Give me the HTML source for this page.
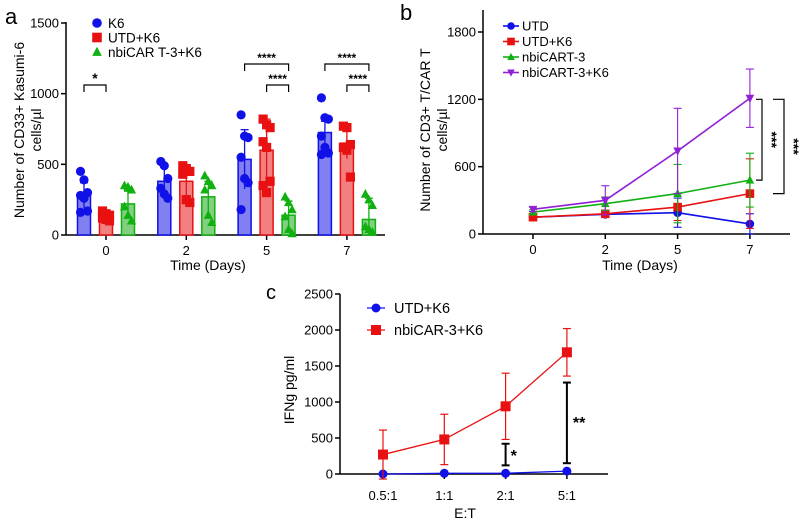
<!DOCTYPE html>
<html><head><meta charset="utf-8"><style>
body{margin:0;background:#fff;}
svg{display:block;font-family:"Liberation Sans",Arial,sans-serif;}
</style></head><body>
<svg id="s" width="800" height="524" viewBox="0 0 800 524"></svg>
<script>
// Panel a data
const aDays = ["0","2","5","7"];
const aSeries = ["K6","UTD+K6","nbiCAR T-3+K6"];
const aMeans = [[280,380,535,725],[130,380,600,650],[220,270,140,110]];
const aSD = [[90,100,210,80],[40,110,220,110],[90,110,100,150]];
const aPoints = [
 [[450,390,300,280,260,170,160],[520,490,400,330,290,260],[850,700,690,550,400,370,180],[970,830,820,700,620,580,570]],
 [[170,150,140,120,110,100],[490,470,450,430,250,230],[820,780,760,660,620,380,350,300],[770,760,640,620,600,410]],
 [[350,340,320,200,140,100],[420,380,350,320,140,90],[270,230,180,130,40,10],[290,250,210,60,40,20]]
];
const aTicks = [0,500,1000,1500];
// Panel b data
const bDays = ["0","2","5","7"];
const bSeries = ["UTD","UTD+K6","nbiCART-3","nbiCART-3+K6"];
const bMeans = [[150,175,190,90],[150,180,240,360],[195,270,360,480],[220,300,740,1210]];
const bSD = [[30,20,130,90],[20,30,120,310],[20,60,260,240],[20,130,380,260]];
const bTicks = [0,600,1200,1800];
// Panel c data
const cRatios = ["0.5:1","1:1","2:1","5:1"];
const cSeries = ["UTD+K6","nbiCAR-3+K6"];
const cMeans = [[0,10,10,40],[270,480,940,1690]];
const cSD = [[0,0,0,0],[340,350,460,330]];
const cTicks = [0,500,1000,1500,2000,2500];

const S=document.getElementById('s');const NS='http://www.w3.org/2000/svg';
function el(tag,at,txt){const e=document.createElementNS(NS,tag);for(const k in at)e.setAttribute(k,at[k]);if(txt!==undefined)e.textContent=txt;S.appendChild(e);return e;}
function ln(x1,y1,x2,y2,c,w){return el('line',{x1,y1,x2,y2,stroke:c||'#000','stroke-width':w||1.5});}
function marker(shape,x,y,c,r){
 if(shape==='c')return el('circle',{cx:x,cy:y,r:r,fill:c});
 if(shape==='s')return el('rect',{x:x-r,y:y-r,width:2*r,height:2*r,fill:c});
 if(shape==='t')return el('polygon',{points:`${x},${y-r*1.1} ${x-r},${y+r*0.8} ${x+r},${y+r*0.8}`,fill:c});
 if(shape==='v')return el('polygon',{points:`${x},${y+r*1.1} ${x-r},${y-r*0.8} ${x+r},${y-r*0.8}`,fill:c});
}
const cols=['#1010e8','#e81010','#10b010'];
const fills=['#8080f0','#f28080','#80d080'];
const shapes=['c','s','t'];

// ---- Panel A ----
const ax0=66, ay0=235, aScale=212/1500;
const aY=v=>ay0-v*aScale;
const aX=(g,s)=>106+g*80.3+(s-1)*22;
let t=el('text',{x:5,y:24,'font-size':22},'a');
ln(ax0,ay0,385,ay0);
ln(ax0,aY(1500)-1,ax0,ay0);
aTicks.forEach(v=>{ln(ax0-5,aY(v),ax0,aY(v));const e=el('text',{x:ax0-7,y:aY(v)+4.5,'font-size':13,'text-anchor':'end'},v);});
aDays.forEach((d,g)=>{ln(aX(g,1),ay0,aX(g,1),ay0+5);const e=el('text',{x:aX(g,1),y:ay0+20,'font-size':13,'text-anchor':'middle'},d);});
aSeries.forEach((nm,s)=>{aDays.forEach((d,g)=>{
 const x=aX(g,s),m=aMeans[s][g],sd=aSD[s][g];
 const b=el('rect',{x:x-6.5,y:aY(m),width:13,height:ay0-aY(m),fill:fills[s],stroke:cols[s],'stroke-width':1.5});
 
 ln(x,aY(m+sd),x,aY(Math.max(0,m-sd)),cols[s],1.3);ln(x-4,aY(m+sd),x+4,aY(m+sd),cols[s],1.3);
 aPoints[s][g].forEach((v,i)=>{const p=marker(shapes[s],x+((i%3)-1)*3.5,aY(v),cols[s],4.6);});
});});
aSeries.forEach((nm,s)=>{const y=23+s*14.5;marker(shapes[s],97,y,cols[s],4.8);const e=el('text',{x:108,y:y+5,'font-size':13.5},nm);});
function brk(x1,x2,y,txt,fs){el('path',{d:`M${x1},${y+7}V${y}H${x2}V${y+7}`,fill:'none',stroke:'#000','stroke-width':1.2});const e=el('text',{x:(x1+x2)/2,y:y-2,'font-size':fs||12,'text-anchor':'middle','font-weight':'bold'},txt);}
brk(aX(0,0),aX(0,1),85,'*',14);
brk(aX(2,0),aX(2,2),64,'****');brk(aX(2,1),aX(2,2),85,'****');
brk(aX(3,0),aX(3,2),64,'****');brk(aX(3,1),aX(3,2),85,'****');
t=el('text',{transform:'translate(24,130) rotate(-90)','font-size':14,'text-anchor':'middle'},'Number of CD33+ Kasumi-6');
t=el('text',{transform:'translate(41,130) rotate(-90)','font-size':14,'text-anchor':'middle'},'cells/µl');
t=el('text',{x:208,y:270,'font-size':14,'text-anchor':'middle'},'Time (Days)');

// ---- Panel B ----
const bx0=483, by0=234, bScale=202/1800;
const bY=v=>by0-v*bScale;
const bX=g=>533+g*72.3;
const bcols=['#1010e8','#e81010','#10b010','#9020d8'];const bsh=['c','s','t','v'];
t=el('text',{x:400,y:20,'font-size':22},'b');
ln(bx0,by0,790,by0);ln(bx0,10,bx0,by0);
bTicks.forEach(v=>{ln(bx0-5,bY(v),bx0,bY(v));el('text',{x:bx0-7,y:bY(v)+4.5,'font-size':13,'text-anchor':'end'},v);});
bDays.forEach((d,g)=>{ln(bX(g),by0,bX(g),by0+5);el('text',{x:bX(g),y:by0+20,'font-size':13,'text-anchor':'middle'},d);});
bSeries.forEach((nm,s)=>{
 const pts=bMeans[s].map((v,g)=>bX(g)+','+bY(v)).join(' ');
 const pl=el('polyline',{points:pts,fill:'none',stroke:bcols[s],'stroke-width':1.6});
 bMeans[s].forEach((v,g)=>{const x=bX(g),sd=bSD[s][g];ln(x,bY(v+sd),x,bY(Math.max(0,v-sd)),bcols[s],1.1);ln(x-4,bY(v+sd),x+4,bY(v+sd),bcols[s],1.1);ln(x-4,bY(Math.max(0,v-sd)),x+4,bY(Math.max(0,v-sd)),bcols[s],1.1);marker(bsh[s],x,bY(v),bcols[s],4.3);});
 const y=26+s*15.5;ln(503,y,519,y,bcols[s],1.6);marker(bsh[s],511,y,bcols[s],3.8);
 const e=el('text',{x:522,y:y+4.5,'font-size':13},nm);
});
el('path',{d:`M756,${bY(1200)}H762V${bY(480)}H756`,fill:'none',stroke:'#000','stroke-width':1.2});
el('path',{d:`M773,${bY(1200)}H784V${bY(360)}H773`,fill:'none',stroke:'#000','stroke-width':1.2});
el('text',{transform:`translate(767,${bY(840)}) rotate(90)`,'font-size':14,'text-anchor':'middle','font-weight':'bold'},'***');
el('text',{transform:`translate(789,${bY(780)}) rotate(90)`,'font-size':14,'text-anchor':'middle','font-weight':'bold'},'***');
t=el('text',{transform:'translate(430,130) rotate(-90)','font-size':14,'text-anchor':'middle'},'Number of CD3+ T/CAR T');
el('text',{transform:'translate(447,130) rotate(-90)','font-size':14,'text-anchor':'middle'},'cells/µl');
el('text',{x:640,y:270,'font-size':14,'text-anchor':'middle'},'Time (Days)');

// ---- Panel C ----
const cx0=340, cy0=474, cScale=180/2500;
const cY=v=>cy0-v*cScale;
const cX=g=>383+g*61.3;
const ccols=['#1010e8','#e81010'];const csh=['c','s'];
t=el('text',{x:266,y:299,'font-size':20},'c');
ln(cx0,cy0,608,cy0);ln(cx0,cY(2500),cx0,cy0);
cTicks.forEach(v=>{ln(cx0-5,cY(v),cx0,cY(v));el('text',{x:cx0-7,y:cY(v)+4.5,'font-size':13,'text-anchor':'end'},v);});
cRatios.forEach((d,g)=>{ln(cX(g),cy0,cX(g),cy0+5);el('text',{x:cX(g),y:cy0+26,'font-size':13,'text-anchor':'middle'},d);});
cSeries.forEach((nm,s)=>{
 const pl=el('polyline',{points:cMeans[s].map((v,g)=>cX(g)+','+cY(v)).join(' '),fill:'none',stroke:ccols[s],'stroke-width':1.3});
 cMeans[s].forEach((v,g)=>{const x=cX(g),sd=cSD[s][g];if(sd){const lo=v-sd;ln(x,cY(v+sd),x,cY(lo),ccols[s],1.2);ln(x-4,cY(v+sd),x+4,cY(v+sd),ccols[s],1.2);ln(x-4,cY(lo),x+4,cY(lo),ccols[s],1.2);}marker(csh[s],x,cY(v),ccols[s],s?5:4.5);});
 const y=308+s*22;ln(367,y,385,y,ccols[s],1.3);marker(csh[s],376,y,ccols[s],s?5:4.5);
 const e=el('text',{x:394,y:y+5,'font-size':14.5},nm);
});
function vb(x,a,b,txt,tx,ty){ln(x,cY(a),x,cY(b),'#000',2);ln(x-4,cY(a),x+4,cY(a),'#000',2);ln(x-4,cY(b),x+4,cY(b),'#000',2);el('text',{x:tx,y:ty,'font-size':16,'font-weight':'bold'},txt);}
vb(cX(2),420,120,'*',cX(2)+5,cY(180));
vb(cX(3),1270,150,'**',cX(3)+6,cY(640));
t=el('text',{transform:'translate(294,390) rotate(-90)','font-size':14,'text-anchor':'middle'},'IFNg pg/ml');
t=el('text',{x:465,y:518,'font-size':14,'text-anchor':'middle'},'E:T');
</script>
</body></html>
